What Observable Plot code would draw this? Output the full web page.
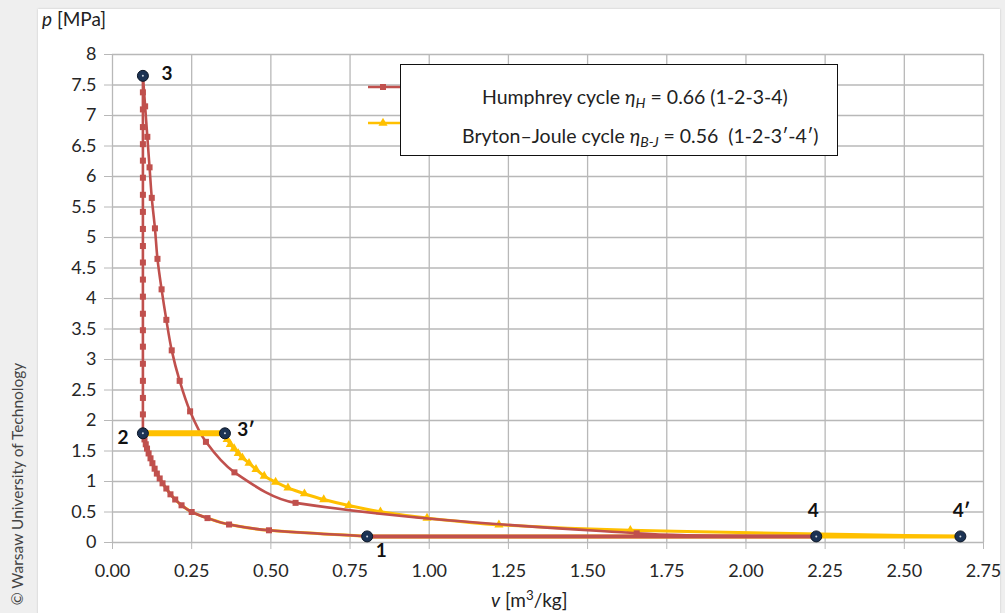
<!DOCTYPE html>
<html>
<head>
<meta charset="utf-8">
<script src="https://cdn.jsdelivr.net/npm/d3@7"></script>
<script src="https://cdn.jsdelivr.net/npm/@observablehq/plot@0.6"></script>
<style>
  html, body { margin: 0; padding: 0; }
  body { width: 1005px; height: 613px; position: relative; overflow: hidden; background: #efefef; font-family: Lato, "Open Sans", sans-serif; }
  #sheet { position: absolute; left: 38px; top: 9px; width: 962px; height: 610px; background: #fff; box-shadow: 0 0 2px rgba(0,0,0,0.18); }
  #chart { position: absolute; left: 0; top: 0; }
  .lbl { position: absolute; color: #222; font-size: 19px; white-space: nowrap; }
  #legend { position: absolute; left: 400px; top: 64px; width: 438px; height: 92px; border: 1.5px solid #111; background: #fff; box-sizing: border-box; }
  #legend div { position: absolute; font-size: 19.5px; color: #222; white-space: nowrap; }
  sub { font-size: 0.72em; vertical-align: -0.25em; line-height: 0; }
  #swatch { position: absolute; left: 360px; top: 70px; }
  #copy { position: absolute; left: 17px; top: 484px; transform: translate(-50%, -50%) rotate(-90deg); font-size: 15.5px; color: #444; white-space: nowrap; }
</style>
</head>
<body>
<div id="sheet"></div>
<div id="chart"></div>
<svg id="swatch" width="45" height="70"></svg>
<div id="legend">
  <div style="top:20px; left:81px;">Humphrey cycle <i>η<sub>H</sub></i> = 0.66 (1-2-3-4)</div>
  <div style="top:59px; left:61px;">Bryton–Joule cycle <i>η<sub>B-J</sub></i> = 0.56 &nbsp;(1-2-3′-4′)</div>
</div>
<div class="lbl" style="left:42px; top:7px;"><i>p</i> [MPa]</div>
<div class="lbl" style="left:491px; top:587px;"><i>v</i> [m<sup style="font-size:0.7em">3</sup>/kg]</div>
<div id="copy">© Warsaw University of Technology</div>
<script>
// ---- data ----
// Humphrey cycle: compression 1 -> 2
const compV = [0.804, 0.494, 0.368, 0.300, 0.250, 0.218, 0.198, 0.183, 0.170, 0.158, 0.149, 0.140, 0.133, 0.126, 0.120, 0.114, 0.109, 0.105, 0.101, 0.096];
const compP = [0.10, 0.20, 0.295, 0.40, 0.50, 0.61, 0.705, 0.79, 0.885, 0.97, 1.05, 1.13, 1.21, 1.30, 1.38, 1.46, 1.54, 1.61, 1.69, 1.79];
// Humphrey: isochoric heat addition 2 -> 3
const isoV = [0.096, 0.096, 0.096, 0.096, 0.096, 0.096, 0.096, 0.096, 0.096, 0.096, 0.096, 0.096, 0.096, 0.096, 0.096, 0.096, 0.096, 0.096, 0.096, 0.096, 0.096, 0.096];
const isoP = [1.79, 2.10, 2.37, 2.65, 2.93, 3.21, 3.48, 3.75, 4.03, 4.31, 4.59, 4.86, 5.14, 5.42, 5.70, 5.98, 6.26, 6.53, 6.81, 7.10, 7.38, 7.65];
// Humphrey: expansion 3 -> 4
const expHV = [0.096, 0.103, 0.110, 0.117, 0.124, 0.134, 0.142, 0.155, 0.170, 0.187, 0.212, 0.245, 0.295, 0.385, 0.578, 1.655, 2.222];
const expHP = [7.65, 7.15, 6.65, 6.15, 5.65, 5.15, 4.65, 4.15, 3.65, 3.15, 2.65, 2.15, 1.65, 1.15, 0.65, 0.15, 0.10];
// Humphrey: isobaric heat rejection 4 -> 1
const rejHV = [2.222, 0.804];
const rejHP = [0.10, 0.10];
// Brayton-Joule: isobaric heat addition 2 -> 3'
const addBV = [0.096, 0.355];
const addBP = [1.79, 1.79];
// Brayton-Joule: expansion 3' -> 4'
const expBV = [0.355, 0.362, 0.372, 0.384, 0.397, 0.410, 0.431, 0.453, 0.479, 0.515, 0.554, 0.606, 0.667, 0.746, 0.846, 0.993, 1.220, 1.635, 2.677];
const expBP = [1.79, 1.69, 1.61, 1.54, 1.46, 1.39, 1.30, 1.20, 1.09, 0.99, 0.895, 0.80, 0.705, 0.607, 0.503, 0.40, 0.29, 0.20, 0.10];
// Brayton-Joule: isobaric heat rejection 4' -> 1
const rejBV = [2.677, 0.804];
const rejBP = [0.10, 0.10];
// state points
const stateNames = ["1", "2", "3", "3′", "4", "4′"];
const stateV = [0.804, 0.096, 0.096, 0.355, 2.222, 2.677];
const stateP = [0.10, 1.79, 7.65, 1.79, 0.10, 0.10];
// ticks
const xTicks = [0, 0.25, 0.5, 0.75, 1, 1.25, 1.5, 1.75, 2, 2.25, 2.5, 2.75];
const yTicks = [0, 0.5, 1, 1.5, 2, 2.5, 3, 3.5, 4, 4.5, 5, 5.5, 6, 6.5, 7, 7.5, 8];

// ---- spreadsheet-style smoothed line (Bezier through the points, no loops) ----
function smoothLine(context) {
  let pts = [];
  return {
    areaStart() {}, areaEnd() {},
    lineStart() { pts = []; },
    point(x, y) { pts.push([+x, +y]); },
    lineEnd() {
      const n = pts.length;
      if (!n) return;
      context.moveTo(pts[0][0], pts[0][1]);
      if (n === 2) { context.lineTo(pts[1][0], pts[1][1]); return; }
      const dirs = pts.map((p, i) => {
        const a = pts[Math.max(0, i - 1)], b = pts[Math.min(n - 1, i + 1)];
        const dx = b[0] - a[0], dy = b[1] - a[1], L = Math.hypot(dx, dy) || 1;
        return [dx / L, dy / L];
      });
      for (let i = 0; i < n - 1; i++) {
        const a = pts[i], b = pts[i + 1];
        const d = Math.hypot(b[0] - a[0], b[1] - a[1]) / 3;
        context.bezierCurveTo(a[0] + dirs[i][0] * d, a[1] + dirs[i][1] * d,
                              b[0] - dirs[i + 1][0] * d, b[1] - dirs[i + 1][1] * d, b[0], b[1]);
      }
    }
  };
}

// ---- build tables ----
const rows = (seg, V, P) => V.map((v, i) => ({seg, v, p: P[i]}));
const red = "#C0504D", yellow = "#FFC000";
const humphreyCurves = [...rows("12", compV, compP), ...rows("23", isoV, isoP), ...rows("34", expHV, expHP)];
const humphreyRej = rows("41", rejHV, rejHP);
const braytonThin = [...rows("12", compV, compP), ...rows("3'4'", expBV, expBP)];
const braytonRej = rows("4'1", rejBV, rejBP);
const braytonAdd = rows("23'", addBV, addBP);
const braytonMarks = rows("3'4'", expBV, expBP);
const states = stateNames.map((name, i) => ({name, v: stateV[i], p: stateP[i]}));
const offsets = {"1": [14, 15], "2": [-20, 5], "3": [24, -2], "3′": [21, -3], "4": [-3, -25], "4′": [1, -25]};

const labelMarks = states.map(s => Plot.text([s], {
  x: "v", y: "p", text: "name", dx: offsets[s.name][0], dy: offsets[s.name][1],
  fontSize: 19, fontWeight: "bold", fill: "#111"
}));

const chart = Plot.plot({
  width: 1005, height: 613,
  marginLeft: 112, marginRight: 22, marginTop: 54, marginBottom: 71,
  style: {background: "transparent", fontFamily: "Lato, 'Open Sans', sans-serif"},
  x: {domain: [0, 2.75]},
  y: {domain: [0, 8]},
  marks: [
    Plot.gridX(xTicks, {stroke: "#b8b8b8", strokeOpacity: 1, strokeWidth: 1.3}),
    Plot.gridY(yTicks, {stroke: "#b8b8b8", strokeOpacity: 1, strokeWidth: 1.3}),
    Plot.axisX({ticks: xTicks, tickFormat: d3.format(".2f"), tickSize: 7, tickPadding: 15, fontSize: 18, stroke: "#b8b8b8", strokeOpacity: 1, fill: "#262626", label: null}),
    Plot.axisY({ticks: yTicks, tickFormat: d => String(d), tickSize: 8, tickPadding: 8, fontSize: 18, stroke: "#b8b8b8", strokeOpacity: 1, fill: "#262626", label: null}),
    // Brayton-Joule cycle (drawn below)
    Plot.line(braytonThin, {x: "v", y: "p", z: "seg", stroke: yellow, strokeWidth: 3, curve: smoothLine}),
    Plot.line(braytonRej, {x: "v", y: "p", stroke: yellow, strokeWidth: 4}),
    Plot.dot(braytonMarks, {x: "v", y: "p", symbol: "triangle", r: 3.4, fill: yellow}),
    // Humphrey cycle
    Plot.line(humphreyCurves, {x: "v", y: "p", z: "seg", stroke: red, strokeWidth: 2.6, curve: smoothLine}),
    Plot.line(humphreyRej, {x: "v", y: "p", stroke: red, strokeWidth: 4}),
    Plot.dot(humphreyCurves, {x: "v", y: "p", symbol: "square", r: 3.4, fill: red}),
    Plot.line(braytonAdd, {x: "v", y: "p", stroke: yellow, strokeWidth: 6}),
    // state points
    Plot.dot(states, {x: "v", y: "p", r: 5.5, fill: "#1c3354", stroke: "#0b1626", strokeWidth: 1}),
    Plot.dot(states, {x: "v", y: "p", r: 1, fill: "#cfd6df"}),
    ...labelMarks
  ]
});
document.getElementById("chart").appendChild(chart);

// legend swatches
const sw = d3.select("#swatch");
sw.append("line").attr("x1", 8).attr("x2", 45).attr("y1", 17).attr("y2", 17).attr("stroke", red).attr("stroke-width", 2.6);
sw.append("rect").attr("x", 20).attr("y", 14).attr("width", 6).attr("height", 6).attr("fill", red);
sw.append("line").attr("x1", 8).attr("x2", 45).attr("y1", 53).attr("y2", 53).attr("stroke", yellow).attr("stroke-width", 2.6);
sw.append("path").attr("d", d3.symbol(d3.symbolTriangle, 36)()).attr("transform", "translate(23,53)").attr("fill", yellow);
</script>
</body>
</html>
